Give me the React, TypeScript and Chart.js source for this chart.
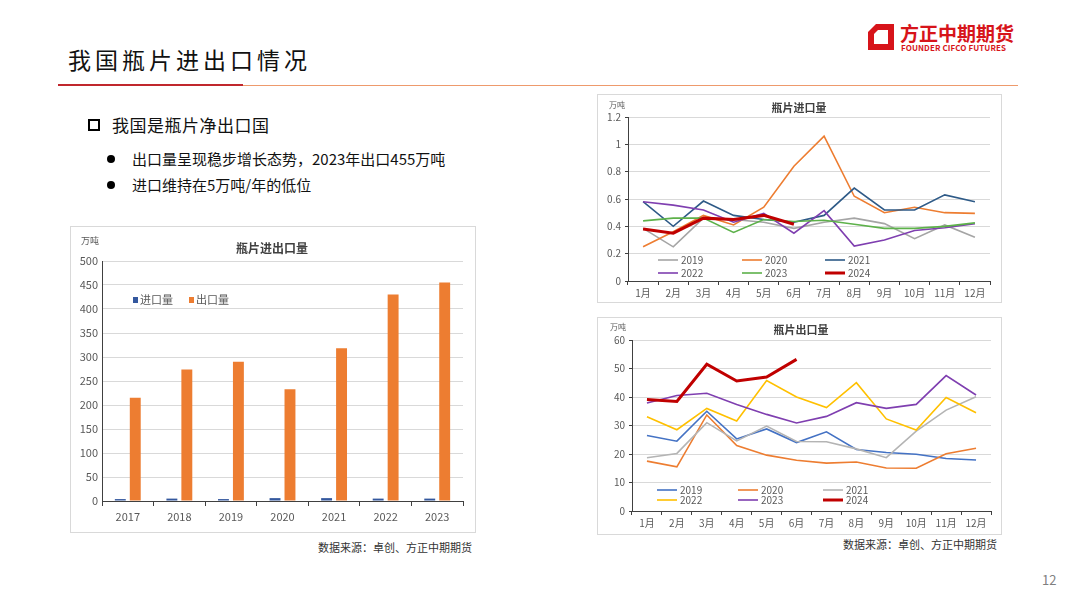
import React, { useEffect, useRef } from "react";
import { Chart, registerables } from "chart.js";

Chart.register(...registerables);

// ---------- DATA ----------
const years = ["2017", "2018", "2019", "2020", "2021", "2022", "2023"];
const annualSeriesLabels = ["进口量", "出口量"];
const annualImport = [4, 5, 4, 6, 6, 5, 5];
const annualExport = [215, 274, 290, 233, 318, 430, 455];

const months = ["1月", "2月", "3月", "4月", "5月", "6月", "7月", "8月", "9月", "10月", "11月", "12月"];
const seriesYears = ["2019", "2020", "2021", "2022", "2023", "2024"];

const import2019 = [0.385, 0.25, 0.46, 0.45, 0.43, 0.385, 0.43, 0.46, 0.42, 0.31, 0.41, 0.32];
const import2020 = [0.25, 0.36, 0.48, 0.41, 0.54, 0.84, 1.06, 0.62, 0.5, 0.54, 0.5, 0.495];
const import2021 = [0.58, 0.4, 0.585, 0.48, 0.45, 0.43, 0.48, 0.68, 0.52, 0.52, 0.63, 0.58];
const import2022 = [0.58, 0.555, 0.52, 0.43, 0.495, 0.35, 0.515, 0.256, 0.3, 0.37, 0.39, 0.42];
const import2023 = [0.44, 0.46, 0.46, 0.355, 0.45, 0.435, 0.445, 0.415, 0.385, 0.385, 0.4, 0.425];
const import2024 = [0.38, 0.35, 0.46, 0.45, 0.48, 0.415];

const export2019 = [26.5, 24.5, 35, 25.3, 28.8, 24, 27.8, 21.6, 20.5, 19.9, 18.4, 17.9];
const export2020 = [17.5, 15.5, 33.7, 23, 19.6, 17.8, 16.8, 17.2, 15.1, 15, 20.1, 22];
const export2021 = [18.7, 20.2, 31, 24.6, 29.8, 24.4, 24.3, 21.8, 18.7, 28, 35.4, 40.1];
const export2022 = [33.1, 28.5, 36, 31.6, 45.8, 40, 36.3, 45, 32.3, 28.4, 39.8, 34.5];
const export2023 = [37.9, 40.5, 41.3, 37.4, 33.9, 30.9, 33.2, 38, 36, 37.4, 47.5, 40.7];
const export2024 = [39.1, 38.4, 51.5, 45.6, 47, 53.2];

const importSeries = [import2019, import2020, import2021, import2022, import2023, import2024];
const exportSeries = [export2019, export2020, export2021, export2022, export2023, export2024];

const importColors = ["#A5A5A5", "#ED7D31", "#2E5A87", "#7F3FB0", "#5DB14A", "#C00000"];
const exportColors = ["#4472C4", "#ED7D31", "#B4B4B4", "#FFC000", "#7F3FB0", "#C00000"];

// ---------- STYLE ----------
const FONT = '"Noto Sans CJK SC", "Liberation Sans", sans-serif';
const TICK = "#595959";
const GRID = "#D9D9D9";
const AXIS = "#404040";

Chart.defaults.font.family = FONT;

const decoPlugin = {
  id: "deco",
  afterDraw(chart: any, _args: any, opts: any) {
    const ctx = chart.ctx;
    ctx.save();
    ctx.textBaseline = "middle";
    ctx.textAlign = "center";
    ctx.fillStyle = "#404040";
    ctx.font = `bold ${opts.titleSize}px ${FONT}`;
    ctx.fillText(opts.title, opts.titleX, opts.titleY);
    ctx.fillStyle = TICK;
    ctx.font = `${opts.unitSize}px ${FONT}`;
    ctx.fillText(opts.unit, opts.unitX, opts.unitY);
    // legend
    ctx.textAlign = "left";
    ctx.font = `${opts.legendSize}px ${FONT}`;
    chart.data.datasets.forEach((ds: any, i: number) => {
      const col = i % opts.legendPerRow;
      const row = Math.floor(i / opts.legendPerRow);
      const x = opts.legendX[col];
      const y = opts.legendY[row];
      if (opts.legendType === "box") {
        ctx.fillStyle = ds.backgroundColor;
        ctx.fillRect(x, y - 3, 5, 6);
        ctx.fillStyle = TICK;
        ctx.fillText(ds.label, x + 7, y);
      } else {
        ctx.strokeStyle = ds.borderColor;
        ctx.lineWidth = ds.borderWidth;
        ctx.beginPath();
        ctx.moveTo(x, y);
        ctx.lineTo(x + 20, y);
        ctx.stroke();
        ctx.fillStyle = TICK;
        ctx.fillText(ds.label, x + 23, y);
      }
    });
    ctx.restore();
  },
};

function ChartCanvas({ config, left, top, width, height }: any) {
  const ref = useRef<HTMLCanvasElement>(null);
  useEffect(() => {
    const chart = new Chart(ref.current as HTMLCanvasElement, config);
    return () => chart.destroy();
  }, []);
  return (
    <div
      style={{
        position: "absolute",
        left: left - 1,
        top: top - 1,
        width,
        height,
        border: "1px solid #D9D9D9",
        background: "#fff",
      }}
    >
      <canvas ref={ref} width={width} height={height} style={{ display: "block", width, height }} />
    </div>
  );
}

const barConfig: any = {
  type: "bar",
  data: {
    labels: years,
    datasets: [
      { label: annualSeriesLabels[0], data: annualImport, backgroundColor: "#34589E", barPercentage: 0.73, categoryPercentage: 0.58 },
      { label: annualSeriesLabels[1], data: annualExport, backgroundColor: "#ED7D31", barPercentage: 0.73, categoryPercentage: 0.58 },
    ],
  },
  options: {
    animation: false,
    responsive: false,
    layout: { padding: { left: 0, right: 12, top: 34, bottom: 0 } },
    plugins: {
      legend: { display: false },
      tooltip: { enabled: false },
      deco: {
        title: "瓶片进出口量", titleSize: 12, titleX: 201, titleY: 21,
        unit: "万吨", unitSize: 9, unitX: 19, unitY: 14,
        legendType: "box", legendSize: 11, legendPerRow: 2, legendX: [62, 118], legendY: [73],
      },
    },
    scales: {
      x: {
        grid: { display: true, drawOnChartArea: false, drawTicks: true, tickLength: 5, color: AXIS, offset: true },
        border: { color: AXIS, width: 1 },
        ticks: { color: TICK, font: { size: 11 }, padding: 4 },
        afterFit: (s: any) => { s.height = 31; },
      },
      y: {
        min: 0, max: 500,
        ticks: { stepSize: 50, color: TICK, font: { size: 11 }, padding: 4 },
        grid: { color: GRID, drawTicks: false },
        border: { color: AXIS, width: 1 },
        afterFit: (s: any) => { s.width = 31; },
      },
    },
  },
  plugins: [decoPlugin],
};

function lineConfig(series: number[][], colors: string[], o: any): any {
  return {
    type: "line",
    data: {
      labels: months,
      datasets: series.map((d, i) => ({
        label: seriesYears[i],
        data: d,
        borderColor: colors[i],
        backgroundColor: colors[i],
        borderWidth: i === 5 ? 3 : 1.6,
        pointRadius: 0,
        tension: 0,
        fill: false,
        order: 10 - i,
      })),
    },
    options: {
      animation: false,
      responsive: false,
      layout: { padding: { left: 0, right: o.padRight, top: o.padTop, bottom: 0 } },
      plugins: { legend: { display: false }, tooltip: { enabled: false }, deco: o.deco },
      scales: {
        x: {
          offset: true,
          grid: { display: true, drawOnChartArea: false, drawTicks: true, tickLength: 4, color: AXIS, offset: true },
          border: { color: AXIS, width: 1 },
          ticks: { color: TICK, font: { size: 10 }, padding: 2, autoSkip: false, maxRotation: 0 },
          afterFit: (s: any) => { s.height = o.xHeight; },
        },
        y: {
          min: 0, max: o.max,
          ticks: {
            stepSize: o.step, color: TICK, font: { size: 10 }, padding: 4,
            callback: (v: number) => String(+Number(v).toFixed(1)),
          },
          grid: { color: GRID, drawTicks: true, tickLength: 3, tickColor: AXIS },
          border: { color: AXIS, width: 1 },
          afterFit: (s: any) => { s.width = o.yWidth; },
        },
      },
    },
    plugins: [decoPlugin],
  };
}

const importConfig = lineConfig(importSeries, importColors, {
  padRight: 11, padTop: 22, xHeight: 21, yWidth: 30, max: 1.2, step: 0.2,
  deco: {
    title: "瓶片进口量", titleSize: 11, titleX: 201, titleY: 13,
    unit: "万吨", unitSize: 8, unitX: 19, unitY: 10,
    legendType: "line", legendSize: 10, legendPerRow: 3, legendX: [60, 144, 227], legendY: [165, 178],
  },
});

const exportConfig = lineConfig(exportSeries, exportColors, {
  padRight: 10, padTop: 22, xHeight: 23, yWidth: 34, max: 60, step: 10,
  deco: {
    title: "瓶片出口量", titleSize: 11, titleX: 203, titleY: 12,
    unit: "万吨", unitSize: 8, unitX: 20, unitY: 9,
    legendType: "line", legendSize: 10, legendPerRow: 3, legendX: [59, 140, 225], legendY: [172, 182],
  },
});

const txt: React.CSSProperties = { position: "absolute", whiteSpace: "nowrap", fontFamily: FONT, lineHeight: 1, color: "#111" };

export default function App() {
  return (
    <div style={{ position: "fixed", left: 0, top: 0, width: 1080, height: 608, background: "#fff", overflow: "hidden", fontFamily: FONT }}>
      {/* header */}
      <div style={{ ...txt, left: 68, top: 48, fontSize: 23, letterSpacing: 4 }}>我国瓶片进出口情况</div>
      <div style={{ position: "absolute", left: 58, top: 84, width: 185, height: 2, background: "#C0272D" }} />
      <div style={{ position: "absolute", left: 243, top: 84.5, width: 775, height: 1.5, background: "#EE9A6C" }} />
      {/* logo */}
      <svg style={{ position: "absolute", left: 867, top: 23 }} width={28} height={28} viewBox="0 0 28 28">
        <path d="M9 1 H27 V27 H1 V9 Z M7 11 V21 H21 V7 H11 Z" fill="#D7141A" fillRule="evenodd" />
      </svg>
      <div style={{ ...txt, left: 900, top: 23, fontSize: 19, fontWeight: 700, color: "#D7141A" }}>方正中期期货</div>
      <div style={{ ...txt, left: 901, top: 44, fontSize: 8, fontWeight: 700, color: "#D7141A", letterSpacing: 0.1 }}>FOUNDER CIFCO FUTURES</div>

      {/* bullets */}
      <div style={{ position: "absolute", left: 88, top: 119, width: 8, height: 8, border: "2.5px solid #000" }} />
      <div style={{ ...txt, left: 112, top: 116, fontSize: 17, letterSpacing: 0.5 }}>我国是瓶片净出口国</div>
      <div style={{ position: "absolute", left: 107, top: 155, width: 8, height: 8, borderRadius: 4, background: "#000" }} />
      <div style={{ ...txt, left: 132, top: 151, fontSize: 15 }}>出口量呈现稳步增长态势，2023年出口455万吨</div>
      <div style={{ position: "absolute", left: 107, top: 181, width: 8, height: 8, borderRadius: 4, background: "#000" }} />
      <div style={{ ...txt, left: 132, top: 177, fontSize: 15 }}>进口维持在5万吨/年的低位</div>

      {/* charts */}
      <ChartCanvas config={barConfig} left={71} top={227} width={404} height={305} />
      <ChartCanvas config={importConfig} left={598} top={95} width={403} height={207} />
      <ChartCanvas config={exportConfig} left={598} top={318} width={403} height={216} />

      {/* sources */}
      <div style={{ ...txt, left: 318, top: 542, fontSize: 11, color: "#333" }}>数据来源：卓创、方正中期期货</div>
      <div style={{ ...txt, left: 843, top: 539, fontSize: 11, color: "#333" }}>数据来源：卓创、方正中期期货</div>

      <div style={{ ...txt, left: 1042, top: 573, fontSize: 13, color: "#7F7F7F" }}>12</div>
    </div>
  );
}
